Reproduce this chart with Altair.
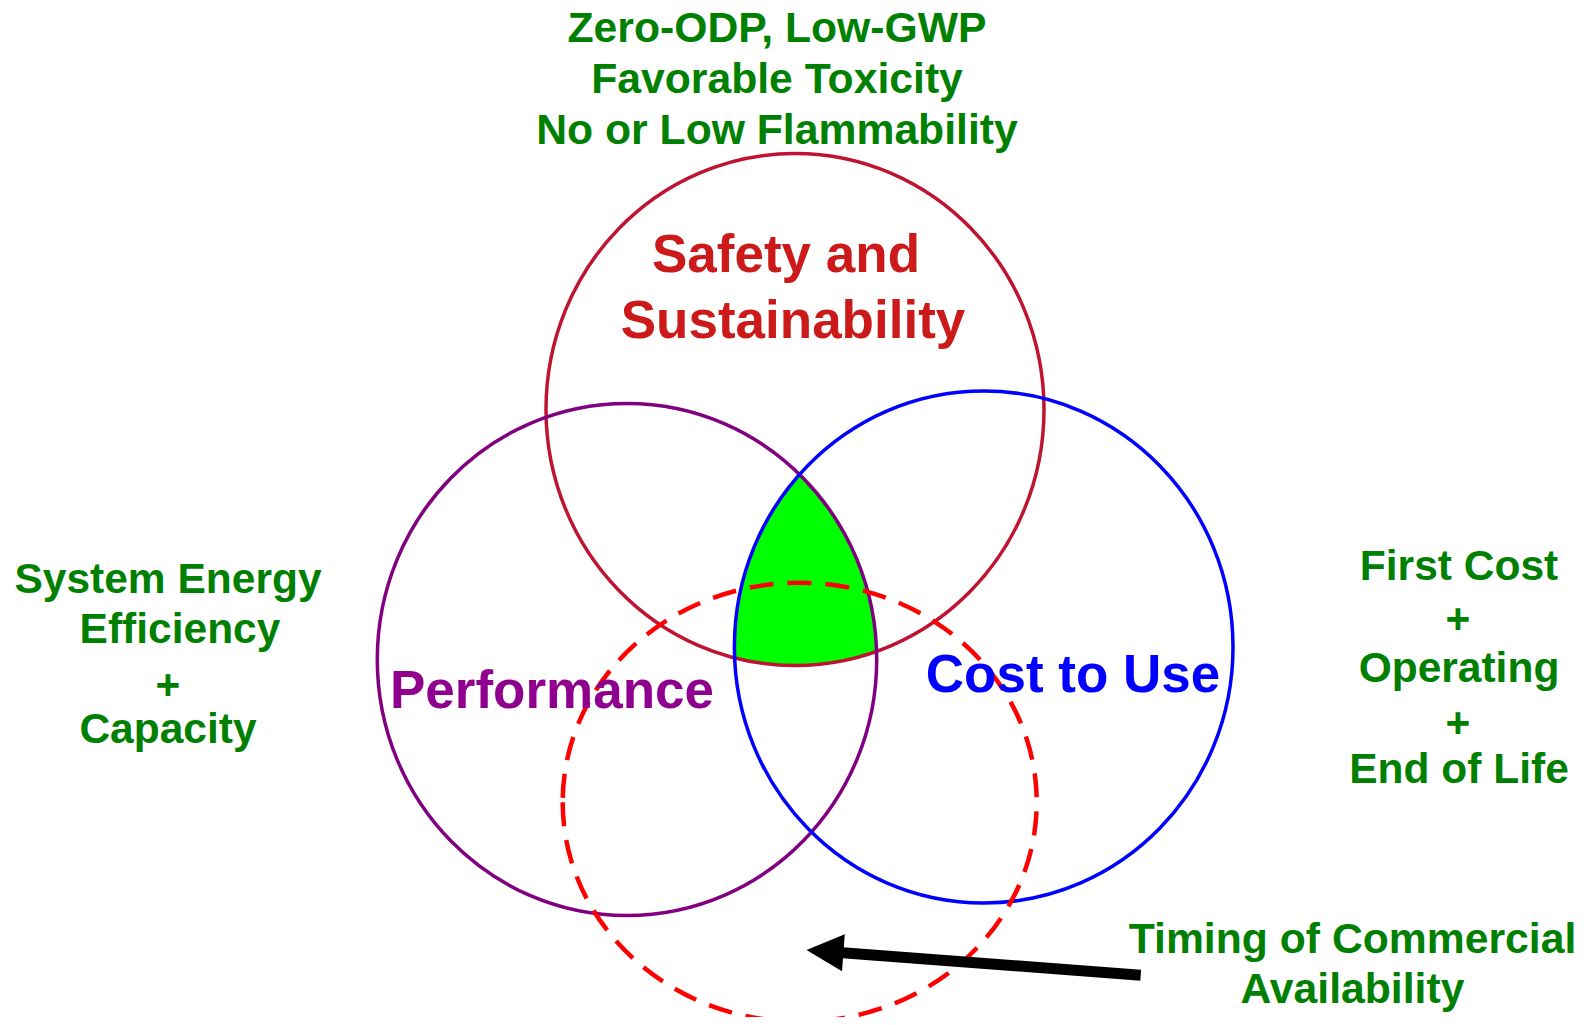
import math
import altair as alt
import pandas as pd

# ---------------- data ----------------
# Ellipses of the diagram (page pixel coordinates of the reference)
set_names = ["Safety and Sustainability", "Performance", "Cost to Use", "Timing of Commercial Availability"]
set_cx = [795.0, 627.0, 983.7, 799.7]
set_cy = [409.5, 659.5, 647.0, 802.2]
set_rx = [249.0, 249.7, 249.3, 237.0]
set_ry = [256.0, 256.0, 256.0, 219.5]
set_stroke = ["#BE1432", "#800080", "#0000FF", "#FF0000"]
set_dashed = [False, False, False, True]

# the highlighted region = intersection of these three sets
intersect_sets = ["Safety and Sustainability", "Performance", "Cost to Use"]
intersect_color = "#00FF00"

# Text labels
label_text = [
    "Zero-ODP, Low-GWP", "Favorable Toxicity", "No or Low Flammability",
    "Safety and", "Sustainability",
    "Performance", "Cost to Use",
    "System Energy", "Efficiency", "+", "Capacity",
    "First Cost", "+", "Operating", "+", "End of Life",
    "Timing of Commercial", "Availability",
]
label_x = [777, 777, 777, 786, 793, 552, 1073, 168, 180, 168, 168,
           1459, 1458, 1459, 1458, 1459, 1352.5, 1352.5]
label_y = [41.7, 92.7, 144, 272, 338, 708, 692, 593, 643, 699, 743,
           580, 633, 682, 737, 783, 953, 1003]
GREEN, RED, PURPLE, BLUE = "#008000", "#CC1A1A", "#8F008F", "#0000FF"
label_color = [GREEN, GREEN, GREEN, RED, RED, PURPLE, BLUE,
               GREEN, GREEN, GREEN, GREEN,
               GREEN, GREEN, GREEN, GREEN, GREEN, GREEN, GREEN]
label_size = [42.7, 42.7, 42.7, 53, 53, 53, 53, 42.5, 42.5, 42.5, 42.5,
              42.5, 42.5, 42.5, 42.5, 42.5, 42.7, 42.7]

# Arrow pointing at the dashed set
arrow_tail = (1140.7, 975.2)
arrow_tip = (806.5, 950.0)
arrow_head_len = 37.0
arrow_width = 11

# ---------------- shapes ----------------
def ellipse_path(k, hole=False):
    q = f"A 1,{k:.4f} 0 0,0 "
    p = f"M -1,0 {q}0,{k:.4f} {q}1,0 {q}0,{-k:.4f} {q}-1,0 Z"
    if hole:
        p = "M -9,-9 L 9,-9 L 9,9 L -9,9 Z " + p
    return p

sets = pd.DataFrame({
    "name": set_names, "x": set_cx, "y": set_cy,
    "rx": set_rx, "ry": set_ry, "stroke": set_stroke, "dashed": set_dashed,
})
sets["size"] = (2 * sets["rx"]) ** 2
sets["shape"] = [ellipse_path(ry / rx) for rx, ry in zip(sets["rx"], sets["ry"])]
sets["hole"] = [ellipse_path(ry / rx, True) for rx, ry in zip(sets["rx"], sets["ry"])]

fill_df = sets[sets["name"] == intersect_sets[0]].copy()
hole_df = sets[sets["name"].isin(intersect_sets[1:])].copy()
solid_df = sets[~sets["dashed"]].copy()
dash_df = sets[sets["dashed"]].copy()

labels = pd.DataFrame({"text": label_text, "x": label_x, "y": label_y,
                       "color": label_color, "size": label_size})

dx = arrow_tail[0] - arrow_tip[0]
dy = arrow_tail[1] - arrow_tip[1]
L = math.hypot(dx, dy)
ux, uy = dx / L, dy / L
angle = math.degrees(math.atan2(dy, dx))
shaft = pd.DataFrame({"x": [arrow_tail[0]], "y": [arrow_tail[1]],
                      "x2": [arrow_tip[0] + 0.8 * arrow_head_len * ux],
                      "y2": [arrow_tip[1] + 0.8 * arrow_head_len * uy]})
head = pd.DataFrame({"x": [arrow_tip[0]], "y": [arrow_tip[1]], "angle": [angle],
                     "shape": ["M 0,0 L 2,-1 L 2,1 Z"],
                     "size": [arrow_head_len ** 2]})

# ---------------- chart ----------------
W, H = 1573, 1009
xs = alt.Scale(domain=[8, 8 + W], nice=False, zero=False)
ys = alt.Scale(domain=[8, 8 + H], nice=False, zero=False, reverse=True)
X = alt.X("x:Q", scale=xs, axis=None)
Y = alt.Y("y:Q", scale=ys, axis=None)

green_fill = alt.Chart(fill_df).mark_point(filled=True, opacity=1, strokeWidth=0).encode(
    x=X, y=Y,
    shape=alt.Shape("shape:N", scale=None),
    size=alt.Size("size:Q", scale=None),
    color=alt.value(intersect_color),
)
white_holes = alt.Chart(hole_df).mark_point(filled=True, opacity=1, strokeWidth=0).encode(
    x=X, y=Y,
    shape=alt.Shape("hole:N", scale=None),
    size=alt.Size("size:Q", scale=None),
    color=alt.value("white"),
)
solid = alt.Chart(solid_df).mark_point(filled=False, opacity=1, strokeWidth=3.5).encode(
    x=X, y=Y,
    shape=alt.Shape("shape:N", scale=None),
    size=alt.Size("size:Q", scale=None),
    color=alt.Color("stroke:N", scale=None),
)
dashed = alt.Chart(dash_df).mark_point(filled=False, opacity=1, strokeWidth=4.5,
                                       strokeDash=[24, 14]).encode(
    x=X, y=Y,
    shape=alt.Shape("shape:N", scale=None),
    size=alt.Size("size:Q", scale=None),
    color=alt.Color("stroke:N", scale=None),
)
arrow_shaft = alt.Chart(shaft).mark_rule(color="black", strokeWidth=arrow_width,
                                         strokeCap="butt").encode(
    x=X, y=Y, x2="x2:Q", y2="y2:Q")
arrow_head = alt.Chart(head).mark_point(filled=True, opacity=1, color="black",
                                        strokeWidth=0).encode(
    x=X, y=Y,
    shape=alt.Shape("shape:N", scale=None),
    size=alt.Size("size:Q", scale=None),
    angle=alt.Angle("angle:Q", scale=None),
)
text = alt.Chart(labels).mark_text(
    font="Liberation Sans", fontWeight="bold", align="center", baseline="alphabetic"
).encode(
    x=X, y=Y, text="text:N",
    color=alt.Color("color:N", scale=None),
    size=alt.Size("size:Q", scale=None),
)

chart = alt.layer(green_fill, white_holes, solid, dashed, arrow_shaft, arrow_head, text).properties(
    width=W, height=H,
    autosize=alt.AutoSizeParams(type="none"),
    padding=0,
    background="white",
).configure_view(stroke=None)

chart.save("out.html", embed_options={"renderer": "svg", "actions": False})
